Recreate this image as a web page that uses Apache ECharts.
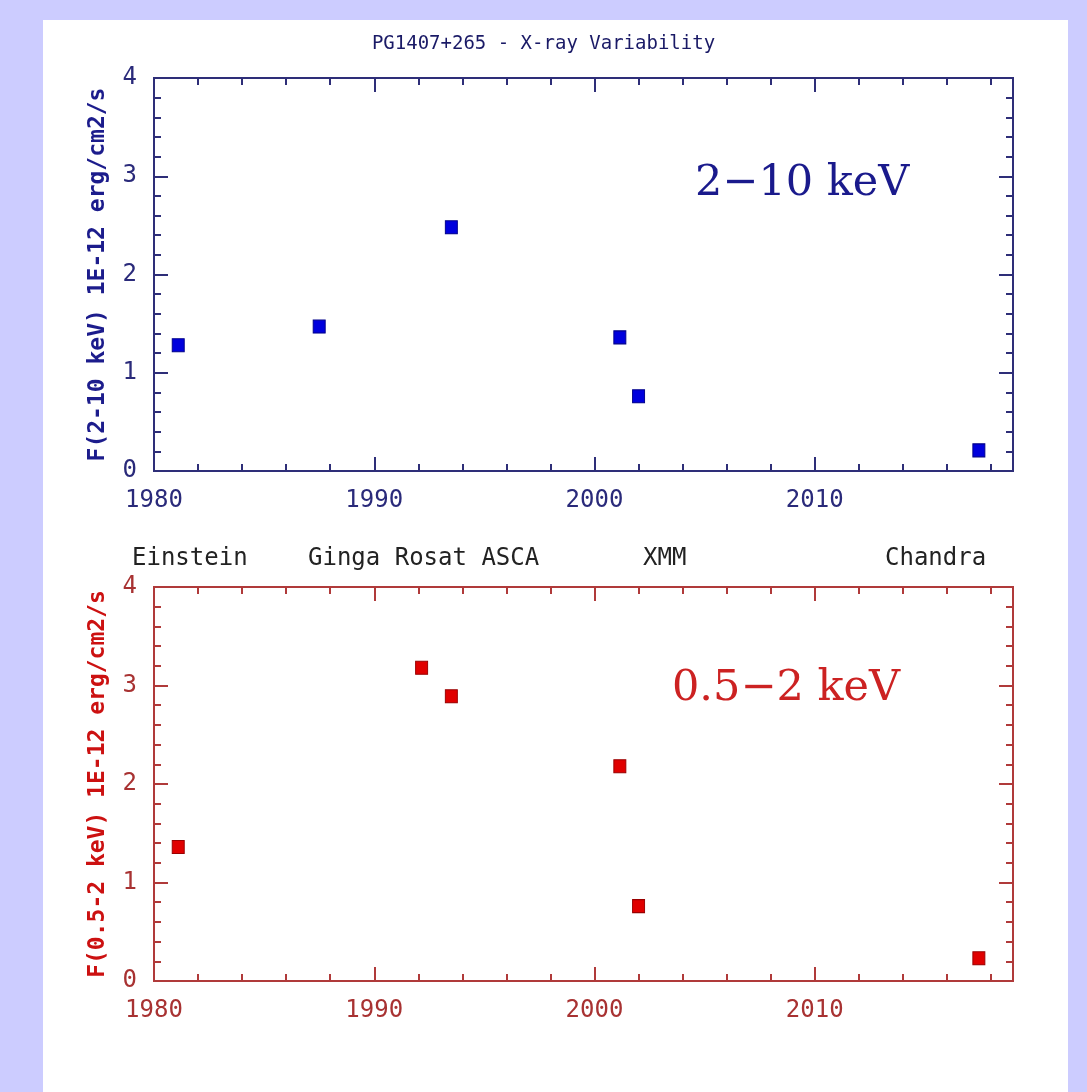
<!DOCTYPE html>
<html>
<head>
<meta charset="utf-8">
<script src="https://cdn.jsdelivr.net/npm/echarts@6/dist/echarts.min.js"></script>
<style>
html,body{margin:0;padding:0;background:#ccccff;}
#chart{width:1087px;height:1092px;}
</style>
</head>
<body>
<div id="chart"></div>
<script>
// ---- data ----
const titleText = 'PG1407+265 - X-ray Variability';
const yearsHard = [1981.1, 1987.5, 1993.5, 2001.15, 2002.0, 2017.45];
const fluxHard  = [1.28, 1.47, 2.48, 1.36, 0.76, 0.21];
const yearsSoft = [1981.1, 1992.15, 1993.5, 2001.15, 2002.0, 2017.45];
const fluxSoft  = [1.36, 3.18, 2.89, 2.18, 0.76, 0.23];
const xMin = 1980, xMax = 2019, xMajor = 10, xMinor = 2;
const yMin = 0, yMax = 4, yMajor = 1;
const yNameHard = 'F(2-10 keV) 1E-12 erg/cm2/s';
const yNameSoft = 'F(0.5-2 keV) 1E-12 erg/cm2/s';
const bandHard = '2\u221210 keV';
const bandSoft = '0.5\u22122 keV';
const missions = ['Einstein', 'Ginga Rosat ASCA', 'XMM', 'Chandra'];

const mono = '"DejaVu Sans Mono", "Liberation Mono", monospace';
const serif = '"DejaVu Serif", "Liberation Serif", serif';

const panels = [
  {top: 78, height: 393, axis: '#2e2e78', label: '#2a2a7a', name: '#1c1c8c', mark: '#0000dd', markBorder: '#00008a', xs: yearsHard, ys: fluxHard, yName: yNameHard},
  {top: 587, height: 394, axis: '#b03a3a', label: '#a83232', name: '#cc1111', mark: '#e00000', markBorder: '#990000', xs: yearsSoft, ys: fluxSoft, yName: yNameSoft}
];

const grids = [], xAxes = [], yAxes = [], series = [];
panels.forEach((p, g) => {
  grids.push({left: 154, top: p.top, width: 859, height: p.height, show: true,
    borderColor: p.axis, borderWidth: 2, backgroundColor: 'transparent'});
  const xBase = {gridIndex: g, type: 'value', min: xMin, max: xMax,
    axisLine: {show: false}, splitLine: {show: false}};
  const tickStyle = {color: p.axis, width: 2};
  const xi = xAxes.length;
  xAxes.push(Object.assign({}, xBase, {position: 'bottom', interval: xMajor,
    axisTick: {inside: true, length: 14, lineStyle: tickStyle},
    axisLabel: {margin: 18, fontSize: 24, fontFamily: mono, color: p.label,
      formatter: v => (v % xMajor === 0 ? String(v) : '')}}));
  xAxes.push(Object.assign({}, xBase, {position: 'bottom', interval: xMinor,
    axisTick: {inside: true, length: 7, lineStyle: tickStyle}, axisLabel: {show: false}}));
  xAxes.push(Object.assign({}, xBase, {position: 'top', interval: xMajor,
    axisTick: {inside: true, length: 14, lineStyle: tickStyle}, axisLabel: {show: false}}));
  xAxes.push(Object.assign({}, xBase, {position: 'top', interval: xMinor,
    axisTick: {inside: true, length: 7, lineStyle: tickStyle}, axisLabel: {show: false}}));
  const yBase = {gridIndex: g, type: 'value', min: yMin, max: yMax, interval: yMajor,
    axisLine: {show: false}, splitLine: {show: false},
    axisTick: {inside: true, length: 14, lineStyle: tickStyle},
    minorTick: {show: true, splitNumber: 5, length: 7, lineStyle: tickStyle}};
  const yi = yAxes.length;
  yAxes.push(Object.assign({}, yBase, {position: 'left',
    axisLabel: {margin: 17, fontSize: 24, fontFamily: mono, color: p.label},
    name: p.yName, nameLocation: 'middle', nameRotate: 90, nameGap: 44,
    nameTextStyle: {fontSize: 23, fontWeight: 'bold', fontFamily: mono, color: p.name}}));
  yAxes.push(Object.assign({}, yBase, {position: 'right', axisLabel: {show: false}}));
  series.push({type: 'scatter', xAxisIndex: xi, yAxisIndex: yi, symbol: 'rect', symbolSize: [12, 13],
    itemStyle: {color: p.mark, borderColor: p.markBorder, borderWidth: 1, opacity: 1},
    data: p.xs.map((x, i) => [x, p.ys[i]])});
});

const missionX = [132, 308, 643, 885];
const graphics = [
  {type: 'rect', z: -10, silent: true, shape: {x: 43, y: 20, width: 1025, height: 1072}, style: {fill: '#ffffff'}},
  {type: 'text', x: 695, y: 184, style: {text: bandHard, font: '43px ' + serif, fill: '#1a1a8c', textVerticalAlign: 'middle', verticalAlign: 'middle'}},
  {type: 'text', x: 672, y: 689, style: {text: bandSoft, font: '43px ' + serif, fill: '#cc2222', textVerticalAlign: 'middle', verticalAlign: 'middle'}}
];
missions.forEach((m, i) => graphics.push({type: 'text', x: missionX[i], y: 559,
  style: {text: m, font: '24px ' + mono, fill: '#222222', verticalAlign: 'middle', textVerticalAlign: 'middle'}}));

const chart = echarts.init(document.getElementById('chart'), null, {renderer: 'canvas'});
chart.setOption({
  animation: false,
  backgroundColor: '#ccccff',
  title: {text: titleText, left: 'center', top: 30,
    textStyle: {fontSize: 19, fontWeight: 'normal', fontFamily: mono, color: '#1a1a66'}},
  grid: grids, xAxis: xAxes, yAxis: yAxes, series: series, graphic: graphics
});
</script>
</body>
</html>
